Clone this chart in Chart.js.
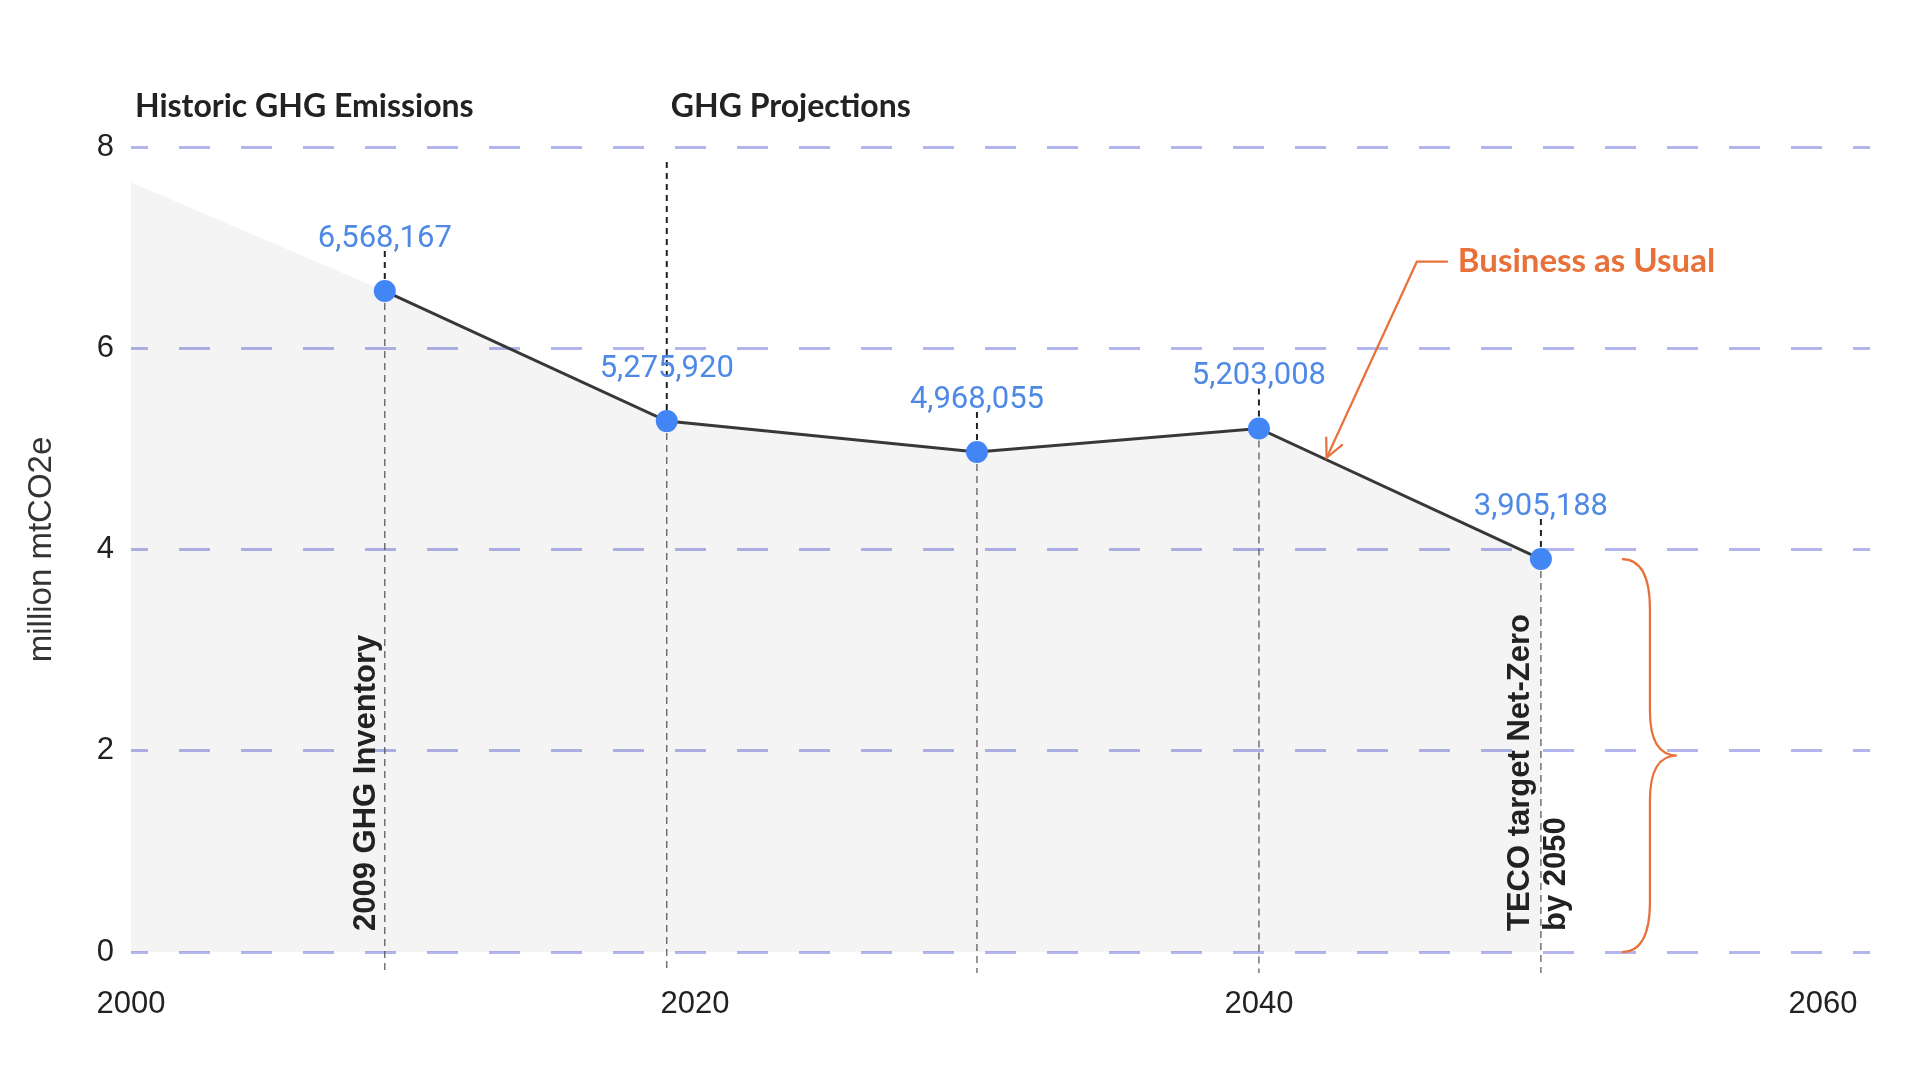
<!DOCTYPE html>
<html>
<head>
<meta charset="utf-8">
<script src="https://cdn.jsdelivr.net/npm/chart.js@4.4.1/dist/chart.umd.min.js"></script>
<style>
  html, body { margin: 0; padding: 0; background: #fff; }
  #wrap { width: 1906px; height: 1072px; }
</style>
</head>
<body>
<div id="wrap"><canvas id="ghgChart" width="1906" height="1072"></canvas></div>
<script>
// data
const years = [2009, 2019, 2030, 2040, 2050];
const emissions = [6568167, 5275920, 4968055, 5203008, 3905188];
// grey area starts at 2000 above the 2009 inventory
const historicYears = [2000];
const historicValues = [7650000];
const xTicks = [2000, 2020, 2040, 2060];
const yTicks = [0, 2, 4, 6, 8];
const sectionTitles = ['Historic GHG Emissions', 'GHG Projections'];
const sectionYears = [2000, 2019];
const inventoryNote = ['2009 GHG Inventory'];
const targetNote = ['TECO target Net-Zero', 'by 2050'];
const bauLabel = 'Business as Usual';

const ORANGE = '#e8713a';
const fmt = new Intl.NumberFormat('en-US');

const toMillions = v => v / 1e6;

const annotations = {
    id: 'annotations',
    beforeDatasetsDraw(chart) {
        const { ctx, scales: { x, y } } = chart;
        const zeroY = y.getPixelForValue(0);
        ctx.save();
        years.forEach((yr, i) => {
            const px = x.getPixelForValue(yr);
            const py = y.getPixelForValue(toMillions(emissions[i]));
            // divider between history and projections starts near the top
            const top = yr === sectionYears[1] ? y.getPixelForValue(7.85) : py - 40;
            ctx.strokeStyle = '#222';
            ctx.lineWidth = 2;
            ctx.setLineDash([6, 5]);
            ctx.beginPath();
            ctx.moveTo(px, top);
            ctx.lineTo(px, py);
            ctx.stroke();
            ctx.strokeStyle = '#555';
            ctx.lineWidth = 1.2;
            ctx.setLineDash([7, 5]);
            ctx.beginPath();
            ctx.moveTo(px, py);
            ctx.lineTo(px, zeroY + 21);
            ctx.stroke();
        });
        ctx.restore();
    },
    afterDatasetsDraw(chart) {
        const { ctx, scales: { x, y } } = chart;
        const zeroY = y.getPixelForValue(0);
        ctx.save();

        // value labels
        ctx.font = '31px Roboto';
        ctx.fillStyle = '#4f89e6';
        ctx.textAlign = 'center';
        ctx.textBaseline = 'middle';
        years.forEach((yr, i) => {
            const px = x.getPixelForValue(yr);
            const py = y.getPixelForValue(toMillions(emissions[i]));
            ctx.fillText(fmt.format(emissions[i]), px, py - 52);
        });

        // section headings
        ctx.font = 'bold 32px Lato';
        ctx.fillStyle = '#222';
        ctx.textAlign = 'left';
        sectionTitles.forEach((t, i) => {
            ctx.fillText(t, x.getPixelForValue(sectionYears[i]) + 4, y.getPixelForValue(8) - 40);
        });

        // rotated notes
        ctx.font = 'bold 31px "Liberation Sans"';
        ctx.fillStyle = '#222';
        const rotated = (txt, px, py) => {
            ctx.save();
            ctx.translate(px, py);
            ctx.rotate(-Math.PI / 2);
            ctx.textAlign = 'left';
            ctx.textBaseline = 'middle';
            ctx.fillText(txt, 0, 0);
            ctx.restore();
        };
        rotated(inventoryNote[0], x.getPixelForValue(years[0]) - 18, zeroY - 21);
        const lastX = x.getPixelForValue(years[years.length - 1]);
        targetNote.forEach((t, i) => rotated(t, lastX - 20 + i * 36, zeroY - 21));

        // curly brace from the 2050 value down to zero
        const topY = y.getPixelForValue(toMillions(emissions[emissions.length - 1]));
        const midY = (topY + zeroY) / 2;
        const tipX = lastX + 81, spineX = lastX + 109, pointX = lastX + 136;
        ctx.strokeStyle = ORANGE;
        ctx.lineWidth = 2.2;
        ctx.beginPath();
        ctx.moveTo(tipX, topY);
        ctx.quadraticCurveTo(spineX, topY, spineX, topY + 50);
        ctx.lineTo(spineX, midY - 45);
        ctx.quadraticCurveTo(spineX, midY, pointX, midY);
        ctx.quadraticCurveTo(spineX, midY, spineX, midY + 45);
        ctx.lineTo(spineX, zeroY - 50);
        ctx.quadraticCurveTo(spineX, zeroY, tipX, zeroY);
        ctx.stroke();

        // Business as Usual callout
        const i4 = years.length - 2;
        const tYear = 2042.4;
        const frac = (tYear - years[i4]) / (years[i4 + 1] - years[i4]);
        const tVal = toMillions(emissions[i4] + (emissions[i4 + 1] - emissions[i4]) * frac);
        const tipPx = x.getPixelForValue(tYear), tipPy = y.getPixelForValue(tVal) - 2;
        const elbowX = x.getPixelForValue(2045.6), elbowY = y.getPixelForValue(6.86);
        ctx.lineWidth = 2.2;
        ctx.beginPath();
        ctx.moveTo(elbowX + 31, elbowY);
        ctx.lineTo(elbowX, elbowY);
        ctx.lineTo(tipPx, tipPy);
        ctx.stroke();
        const ang = Math.atan2(tipPy - elbowY, tipPx - elbowX);
        ctx.beginPath();
        ctx.moveTo(tipPx - 21 * Math.cos(ang - 0.45), tipPy - 21 * Math.sin(ang - 0.45));
        ctx.lineTo(tipPx, tipPy);
        ctx.lineTo(tipPx - 21 * Math.cos(ang + 0.45), tipPy - 21 * Math.sin(ang + 0.45));
        ctx.stroke();
        ctx.font = 'bold 33px Lato';
        ctx.fillStyle = ORANGE;
        ctx.textAlign = 'left';
        ctx.textBaseline = 'middle';
        ctx.fillText(bauLabel, elbowX + 41, elbowY);

        ctx.restore();
    }
};

function renderChart() {
    const ctx = document.getElementById('ghgChart').getContext('2d');

    const areaData = historicYears.map((yr, i) => ({ x: yr, y: toMillions(historicValues[i]) }))
        .concat(years.map((yr, i) => ({ x: yr, y: toMillions(emissions[i]) })));
    const lineData = years.map((yr, i) => ({ x: yr, y: toMillions(emissions[i]) }));

    new Chart(ctx, {
        type: 'line',
        data: {
            datasets: [
                {
                    label: 'Business as Usual',
                    data: lineData,
                    borderColor: '#383838',
                    borderWidth: 3,
                    pointRadius: 11,
                    pointBackgroundColor: '#4285f4',
                    pointBorderWidth: 0,
                    tension: 0,
                    fill: false,
                    order: 1
                },
                {
                    label: 'area',
                    data: areaData,
                    borderWidth: 0,
                    pointRadius: 0,
                    backgroundColor: 'rgba(0, 0, 0, 0.045)',
                    fill: 'origin',
                    tension: 0,
                    order: 2
                }
            ]
        },
        options: {
            responsive: false,
            animation: false,
            events: [],
            layout: { padding: { top: 147, right: 36, bottom: 0, left: 0 } },
            plugins: {
                legend: { display: false },
                tooltip: { enabled: false }
            },
            scales: {
                x: {
                    type: 'linear',
                    min: 2000,
                    max: 2061.67,
                    afterBuildTicks: s => { s.ticks = xTicks.map(v => ({ value: v })); },
                    afterFit: s => { s.height = 120; },
                    grid: { display: false },
                    border: { display: false },
                    ticks: {
                        padding: 26,
                        color: '#222',
                        font: { family: 'Liberation Sans', size: 31 },
                        callback: v => String(v)
                    }
                },
                y: {
                    min: 0,
                    max: 8,
                    afterBuildTicks: s => { s.ticks = yTicks.map(v => ({ value: v })); },
                    afterFit: s => { s.width = 131; },
                    border: { display: false, dash: [31, 31], dashOffset: 14 },
                    grid: {
                        color: '#b2b6ec',
                        lineWidth: 3,
                        drawTicks: false
                    },
                    ticks: {
                        padding: 17,
                        color: '#222',
                        font: { family: 'Liberation Sans', size: 31 }
                    },
                    title: {
                        display: true,
                        text: 'million mtCO2e',
                        color: '#333',
                        padding: { top: 22, bottom: 0 },
                        font: { family: 'Liberation Sans', size: 33 }
                    }
                }
            }
        },
        plugins: [annotations]
    });
}

document.addEventListener('DOMContentLoaded', renderChart);
</script>
</body>
</html>
